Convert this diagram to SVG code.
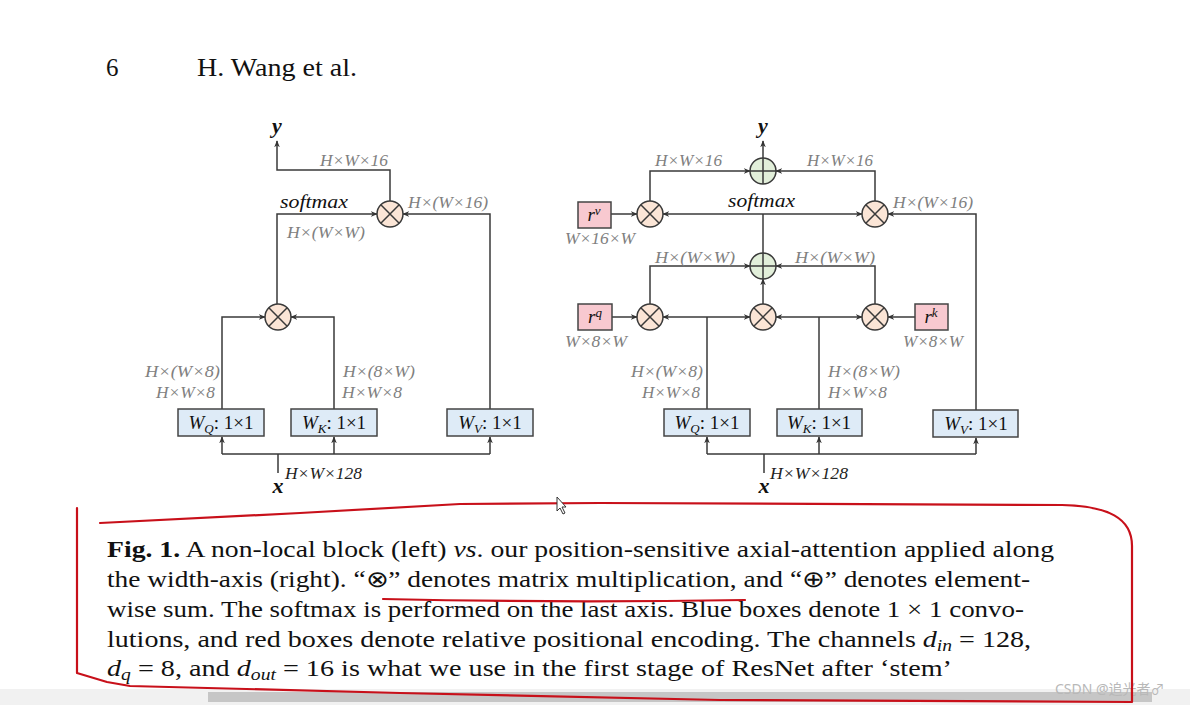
<svg xmlns="http://www.w3.org/2000/svg" width="1190" height="705" viewBox="0 0 1190 705">
<defs>
<marker id="ah" viewBox="0 0 10 10" refX="9" refY="5" markerWidth="7" markerHeight="7" orient="auto" markerUnits="userSpaceOnUse">
<path d="M0,1 L10,5 L0,9 L3,5 Z" fill="#333"/>
</marker>
<style>
.ln{fill:none;stroke:#3a3a3a;stroke-width:1.5}
.ar{fill:none;stroke:#3a3a3a;stroke-width:1.5;marker-end:url(#ah)}
.mul{fill:#fbe5d6;stroke:#3a3a3a;stroke-width:1.5}
.add{fill:#e2efda;stroke:#3a3a3a;stroke-width:1.5}
.blue{fill:#deebf7;stroke:#444;stroke-width:1.5}
.pink{fill:#f8c9d0;stroke:#444;stroke-width:1.5}
.lab{font-family:"Liberation Serif",serif;font-style:italic;font-size:17.5px;fill:#808080}
.sm{font-family:"Liberation Serif",serif;font-style:italic;font-size:19px;fill:#111}
.bx{font-family:"Liberation Serif",serif;font-size:19px;fill:#111;text-anchor:middle}
.io{font-family:"Liberation Serif",serif;font-style:italic;font-weight:bold;font-size:22px;fill:#111;text-anchor:middle}
.cap{font-family:"Liberation Serif",serif;font-size:23px;fill:#111}
.red{fill:none;stroke:#c8101a;stroke-width:2.2;stroke-linejoin:round;stroke-linecap:round}
</style>
</defs>
<rect width="1190" height="705" fill="#ffffff"/>

<!-- header -->
<text x="106" y="76" style="font-family:'Liberation Serif',serif;font-size:25px;fill:#111">6</text>
<text x="197" y="76" textLength="160" lengthAdjust="spacingAndGlyphs" style="font-family:'Liberation Serif',serif;font-size:25px;fill:#111">H. Wang et al.</text>

<!-- connectors -->
<g id="connectors">
<path class="ar" d="M390,201 V170 H277 V141"/>
<path class="ar" d="M277,304 V214 H377"/>
<path class="ar" d="M490,409 V214 H403"/>
<path class="ar" d="M222,409 V317 H265"/>
<path class="ar" d="M334,409 V317 H291"/>
<path class="ln" d="M278,473 V454 M222,454 H490"/>
<path class="ar" d="M222,454 V437"/>
<path class="ar" d="M334,454 V437"/>
<path class="ar" d="M490,454 V437"/>
<path class="ar" d="M763,158 V141"/>
<path class="ar" d="M650,201 V171 H750"/>
<path class="ar" d="M875,201 V171 H776"/>
<path class="ar" d="M611,214 H637"/>
<path class="ln" d="M763,253 V214"/>
<path class="ar" d="M763,214 H663"/>
<path class="ar" d="M763,214 H862"/>
<path class="ar" d="M976,410 V214 H888"/>
<path class="ar" d="M650,304 V266 H750"/>
<path class="ar" d="M875,304 V266 H776"/>
<path class="ar" d="M763,304 V279"/>
<path class="ar" d="M612,317 H637"/>
<path class="ar" d="M915,317 H888"/>
<path class="ln" d="M707,409 V317"/>
<path class="ar" d="M707,317 H663"/>
<path class="ar" d="M707,317 H750"/>
<path class="ln" d="M819,409 V317"/>
<path class="ar" d="M819,317 H776"/>
<path class="ar" d="M819,317 H862"/>
<path class="ln" d="M764,473 V454 M707,454 H976"/>
<path class="ar" d="M707,454 V437"/>
<path class="ar" d="M819,454 V437"/>
<path class="ar" d="M976,454 V438"/>
</g>

<!-- left nodes -->
<g id="L_mul_top"><circle class="mul" cx="390" cy="214" r="13"/><path class="ln" d="M380.8,204.8 L399.2,223.2 M399.2,204.8 L380.8,223.2"/></g>
<g id="L_mul_qk"><circle class="mul" cx="278" cy="317" r="13"/><path class="ln" d="M268.8,307.8 L287.2,326.2 M287.2,307.8 L268.8,326.2"/></g>
<g id="L_WQ"><rect class="blue" x="178" y="409" width="86" height="27"/><text class="bx" x="221" y="429"><tspan font-style="italic">W</tspan><tspan font-style="italic" font-size="13" dy="4">Q</tspan><tspan dy="-4">: 1×1</tspan></text></g>
<g id="L_WK"><rect class="blue" x="291" y="409" width="86" height="27"/><text class="bx" x="334" y="429"><tspan font-style="italic">W</tspan><tspan font-style="italic" font-size="13" dy="4">K</tspan><tspan dy="-4">: 1×1</tspan></text></g>
<g id="L_WV"><rect class="blue" x="447" y="409" width="86" height="27"/><text class="bx" x="490" y="429"><tspan font-style="italic">W</tspan><tspan font-style="italic" font-size="13" dy="4">V</tspan><tspan dy="-4">: 1×1</tspan></text></g>
<g id="L_y"><text class="io" x="277" y="133">y</text></g>
<g id="L_x"><text class="io" x="278" y="493">x</text></g>
<g id="L_labels">
<text class="lab" x="320" y="166" textLength="68" lengthAdjust="spacingAndGlyphs">H×W×16</text>
<text class="sm" x="280" y="208" textLength="68" lengthAdjust="spacingAndGlyphs">softmax</text>
<text class="lab" x="408" y="208" textLength="80" lengthAdjust="spacingAndGlyphs">H×(W×16)</text>
<text class="lab" x="287" y="238" textLength="78" lengthAdjust="spacingAndGlyphs">H×(W×W)</text>
<text class="lab" x="145" y="377" textLength="75" lengthAdjust="spacingAndGlyphs">H×(W×8)</text>
<text class="lab" x="156" y="398" textLength="59" lengthAdjust="spacingAndGlyphs">H×W×8</text>
<text class="lab" x="343" y="377" textLength="72" lengthAdjust="spacingAndGlyphs">H×(8×W)</text>
<text class="lab" x="342" y="398" textLength="60" lengthAdjust="spacingAndGlyphs">H×W×8</text>
<text class="lab" x="285" y="479" textLength="77" lengthAdjust="spacingAndGlyphs" style="fill:#222">H×W×128</text>
</g>

<!-- right nodes -->
<g id="R_add_top"><circle class="add" cx="763" cy="171" r="13"/><path class="ln" d="M763,158 V184 M750,171 H776"/></g>
<g id="R_mul_v"><circle class="mul" cx="650" cy="214" r="13"/><path class="ln" d="M640.8,204.8 L659.2,223.2 M659.2,204.8 L640.8,223.2"/></g>
<g id="R_mul_val"><circle class="mul" cx="875" cy="214" r="13"/><path class="ln" d="M865.8,204.8 L884.2,223.2 M884.2,204.8 L865.8,223.2"/></g>
<g id="R_add_mid"><circle class="add" cx="763" cy="266" r="13"/><path class="ln" d="M763,253 V279 M750,266 H776"/></g>
<g id="R_mul_q"><circle class="mul" cx="650" cy="317" r="13"/><path class="ln" d="M640.8,307.8 L659.2,326.2 M659.2,307.8 L640.8,326.2"/></g>
<g id="R_mul_qk"><circle class="mul" cx="763" cy="317" r="13"/><path class="ln" d="M753.8,307.8 L772.2,326.2 M772.2,307.8 L753.8,326.2"/></g>
<g id="R_mul_k"><circle class="mul" cx="875" cy="317" r="13"/><path class="ln" d="M865.8,307.8 L884.2,326.2 M884.2,307.8 L865.8,326.2"/></g>
<g id="R_rv"><rect class="pink" x="578" y="202" width="33" height="26"/><text class="bx" x="594" y="221"><tspan font-style="italic">r</tspan><tspan font-style="italic" font-size="13" dy="-6">v</tspan></text></g>
<g id="R_rq"><rect class="pink" x="578" y="304" width="34" height="26"/><text class="bx" x="595" y="323"><tspan font-style="italic">r</tspan><tspan font-style="italic" font-size="13" dy="-6">q</tspan></text></g>
<g id="R_rk"><rect class="pink" x="915" y="304" width="33" height="26"/><text class="bx" x="931" y="323"><tspan font-style="italic">r</tspan><tspan font-style="italic" font-size="13" dy="-6">k</tspan></text></g>
<g id="R_WQ"><rect class="blue" x="664" y="409" width="86" height="27"/><text class="bx" x="707" y="429"><tspan font-style="italic">W</tspan><tspan font-style="italic" font-size="13" dy="4">Q</tspan><tspan dy="-4">: 1×1</tspan></text></g>
<g id="R_WK"><rect class="blue" x="777" y="409" width="85" height="27"/><text class="bx" x="819" y="429"><tspan font-style="italic">W</tspan><tspan font-style="italic" font-size="13" dy="4">K</tspan><tspan dy="-4">: 1×1</tspan></text></g>
<g id="R_WV"><rect class="blue" x="933" y="410" width="85" height="27"/><text class="bx" x="976" y="430"><tspan font-style="italic">W</tspan><tspan font-style="italic" font-size="13" dy="4">V</tspan><tspan dy="-4">: 1×1</tspan></text></g>
<g id="R_y"><text class="io" x="763" y="133">y</text></g>
<g id="R_x"><text class="io" x="764" y="493">x</text></g>
<g id="R_labels">
<text class="lab" x="655" y="166" textLength="67" lengthAdjust="spacingAndGlyphs">H×W×16</text>
<text class="lab" x="807" y="166" textLength="66" lengthAdjust="spacingAndGlyphs">H×W×16</text>
<text class="sm" x="728" y="207" textLength="67" lengthAdjust="spacingAndGlyphs">softmax</text>
<text class="lab" x="893" y="208" textLength="80" lengthAdjust="spacingAndGlyphs">H×(W×16)</text>
<text class="lab" x="565" y="244" textLength="70" lengthAdjust="spacingAndGlyphs">W×16×W</text>
<text class="lab" x="655" y="263" textLength="80" lengthAdjust="spacingAndGlyphs">H×(W×W)</text>
<text class="lab" x="795" y="263" textLength="80" lengthAdjust="spacingAndGlyphs">H×(W×W)</text>
<text class="lab" x="565" y="347" textLength="62" lengthAdjust="spacingAndGlyphs">W×8×W</text>
<text class="lab" x="903" y="347" textLength="60" lengthAdjust="spacingAndGlyphs">W×8×W</text>
<text class="lab" x="631" y="377" textLength="72" lengthAdjust="spacingAndGlyphs">H×(W×8)</text>
<text class="lab" x="642" y="398" textLength="58" lengthAdjust="spacingAndGlyphs">H×W×8</text>
<text class="lab" x="828" y="377" textLength="72" lengthAdjust="spacingAndGlyphs">H×(8×W)</text>
<text class="lab" x="828" y="398" textLength="59" lengthAdjust="spacingAndGlyphs">H×W×8</text>
<text class="lab" x="770" y="479" textLength="78" lengthAdjust="spacingAndGlyphs" style="fill:#222">H×W×128</text>
</g>

<!-- caption -->
<g id="caption">
<text class="cap" x="107" y="557" textLength="947" lengthAdjust="spacingAndGlyphs"><tspan font-weight="bold">Fig. 1.</tspan> A non-local block (left) <tspan font-style="italic">vs</tspan>. our position-sensitive axial-attention applied along</text>
<text class="cap" x="107" y="587" textLength="923" lengthAdjust="spacingAndGlyphs">the width-axis (right). “⊗” denotes matrix multiplication, and “⊕” denotes element-</text>
<text class="cap" x="107" y="617" textLength="917" lengthAdjust="spacingAndGlyphs">wise sum. The softmax is performed on the last axis. Blue boxes denote 1 × 1 convo-</text>
<text class="cap" x="107" y="647" textLength="924" lengthAdjust="spacingAndGlyphs">lutions, and red boxes denote relative positional encoding. The channels <tspan font-style="italic">d</tspan><tspan font-style="italic" font-size="16" dy="4">in</tspan><tspan dy="-4"> = 128,</tspan></text>
<text class="cap" x="107" y="676" textLength="845" lengthAdjust="spacingAndGlyphs"><tspan font-style="italic">d</tspan><tspan font-style="italic" font-size="16" dy="4">q</tspan><tspan dy="-4"> = 8, and </tspan><tspan font-style="italic">d</tspan><tspan font-style="italic" font-size="16" dy="4">out</tspan><tspan dy="-4"> = 16 is what we use in the first stage of ResNet after ‘stem’</tspan></text>
</g>

<!-- bottom bar -->
<rect x="0" y="689" width="1190" height="16" fill="#f1f1f1"/>
<rect x="208" y="692" width="944" height="10" fill="#c6c6c6"/>
<text x="1055" y="694" style="font-family:'Noto Sans','Noto Sans CJK SC',sans-serif;font-size:14px;fill:#b8b8b8">CSDN @追光者♂</text>

<!-- red annotation -->
<path class="red" d="M77,508 L77,673 L107,682 L130,686 L400,693 L720,700 L1132,702 L1132,546 C1132,518 1108,506 1062,505 L600,503 L460,504 L300,513 L100,523"/>
<path class="red" d="M383,599 Q560,603 745,600"/>

<!-- cursor -->
<path d="M557,497 L557,511 L560,508 L563,514 L565,513 L562,507 L566,507 Z" fill="#fff" stroke="#333" stroke-width="1"/>
</svg>
